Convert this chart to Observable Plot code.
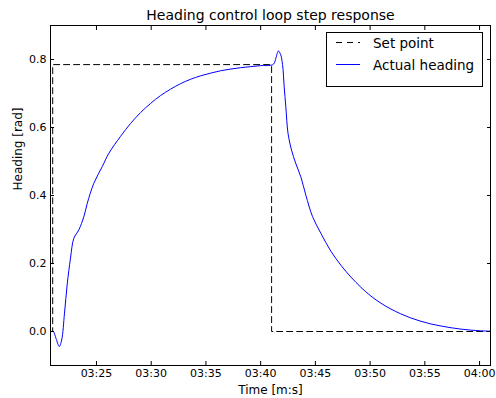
<!DOCTYPE html>
<html><head><meta charset="utf-8">
<script src="https://cdn.jsdelivr.net/npm/d3@7"></script>
<script src="https://cdn.jsdelivr.net/npm/@observablehq/plot@0.6"></script>
<style>
body{margin:0;background:#fff}
svg{font-family:"DejaVu Sans",sans-serif}
</style>
</head><body><div id="chart"></div>
<script>
const titleText = "Heading control loop step response";
const xLabel = "Time [m:s]";
const yLabel = "Heading [rad]";
const seriesNames = ["Set point", "Actual heading"];
const xTickValues = [205, 210, 215, 220, 225, 230, 235, 240];
const xTickLabels = ["03:25", "03:30", "03:35", "03:40", "03:45", "03:50", "03:55", "04:00"];
const yTickValues = [0, 0.2, 0.4, 0.6, 0.8];
const yTickLabels = ["0.0", "0.2", "0.4", "0.6", "0.8"];
const xDomain = [200.8, 241.0];
const yDomain = [-0.1, 0.9];

// set point (seconds after 03:00)
const setTime = [200.8, 201.0, 221.0, 241.0];
const setValue = [0, 0.785, 0, 0];

// actual heading (seconds after 03:00)
const headTime = [200.8, 201.05, 201.3, 201.6, 201.82, 202.08, 202.33, 202.63, 202.93, 203.39, 203.85, 204.16, 204.76, 205.53, 206.13, 207.2, 208.12, 209.03, 209.95, 210.86, 211.78, 212.69, 213.61, 214.52, 215.44, 216.35, 217.27, 218.18, 219.1, 220.01, 220.93, 221.2, 221.4, 221.62, 221.82, 222.0, 222.15, 222.3, 222.5, 222.82, 223.2, 223.67, 224.13, 224.74, 225.5, 226.42, 227.33, 228.25, 229.16, 230.08, 231.0, 231.9, 232.8, 233.7, 234.65, 235.57, 236.5, 237.4, 238.3, 239.2, 240.1, 241.0];
const headValue = [0, 0, -0.02, -0.044, -0.025, 0.054, 0.14, 0.216, 0.274, 0.299, 0.338, 0.377, 0.436, 0.485, 0.524, 0.574, 0.612, 0.644, 0.671, 0.694, 0.713, 0.729, 0.742, 0.752, 0.760, 0.767, 0.772, 0.776, 0.779, 0.782, 0.783, 0.787, 0.805, 0.825, 0.815, 0.785, 0.72, 0.661, 0.583, 0.534, 0.495, 0.455, 0.401, 0.338, 0.289, 0.236, 0.195, 0.160, 0.130, 0.104, 0.083, 0.066, 0.052, 0.040, 0.030, 0.022, 0.016, 0.011, 0.007, 0.004, 0.002, 0.001];

const setData = setTime.map((t, i) => ({t, v: setValue[i]}));
const headData = headTime.map((t, i) => ({t, v: headValue[i]}));
const xFmt = d => xTickLabels[xTickValues.indexOf(d)];
const yFmt = d => yTickLabels[yTickValues.indexOf(d)];
const blank = () => "";

const plot = Plot.plot({
  width: 496,
  height: 398,
  marginTop: 25,
  marginBottom: 33,
  marginLeft: 50,
  marginRight: 6,
  style: {fontFamily: "DejaVu Sans, sans-serif", color: "#000", background: "#fff"},
  x: {domain: xDomain},
  y: {domain: yDomain},
  marks: [
    Plot.line(setData, {x: "t", y: "v", curve: "step-after", stroke: "#000", strokeWidth: 1, strokeDasharray: "6,4"}),
    Plot.line(headData, {x: "t", y: "v", curve: "catmull-rom", stroke: "#0000ff", strokeWidth: 1}),
    Plot.frame({stroke: "#000", strokeWidth: 1}),
    // inward tick marks on all four sides
    Plot.axisX(xTickValues, {anchor: "bottom", tickSize: 4, dy: -4, tickFormat: blank, label: null}),
    Plot.axisX(xTickValues, {anchor: "top", tickSize: 4, dy: 4, tickFormat: blank, label: null}),
    Plot.axisY(yTickValues, {anchor: "left", tickSize: 4, dx: 4, tickFormat: blank, label: null}),
    Plot.axisY(yTickValues, {anchor: "right", tickSize: 4, dx: -4, tickFormat: blank, label: null}),
    // tick labels
    Plot.axisX(xTickValues, {anchor: "bottom", tickSize: 0, tickPadding: 4, tickFormat: xFmt, label: null, fontSize: 11}),
    Plot.axisY(yTickValues, {anchor: "left", tickSize: 0, tickPadding: 4, tickFormat: yFmt, label: null, fontSize: 11}),
    // titles
    Plot.text([titleText], {frameAnchor: "top", dy: -9.5, lineAnchor: "middle", fontSize: 14, fill: "#000"}),
    Plot.text([xLabel], {frameAnchor: "bottom", dy: 25, lineAnchor: "middle", fontSize: 12, fill: "#000"}),
    Plot.text([yLabel], {frameAnchor: "left", dx: -32, dy: -5, rotate: -90, lineAnchor: "middle", fontSize: 12, fill: "#000"})
  ]
});
document.getElementById("chart").appendChild(plot);

// legend (matplotlib-style box inside the axes, upper right)
const svg = d3.select(plot);
const lg = svg.append("g").attr("class", "legend").attr("text-anchor", "start");
lg.append("rect").attr("x", 326.5).attr("y", 32.5).attr("width", 156).attr("height", 54)
  .attr("fill", "#fff").attr("stroke", "#000").attr("stroke-width", 1);
const legendStyles = [
  {stroke: "#000", dash: "6,5", y: 42.5},
  {stroke: "#0000ff", dash: null, y: 64.5}
];
seriesNames.forEach((name, i) => {
  const s = legendStyles[i];
  const ln = lg.append("line").attr("x1", 336).attr("x2", 360).attr("y1", s.y).attr("y2", s.y)
    .attr("stroke", s.stroke).attr("stroke-width", 1);
  if (s.dash) ln.attr("stroke-dasharray", s.dash);
  lg.append("text").attr("x", 373).attr("y", s.y + 1).attr("dy", "0.32em")
    .attr("text-anchor", "start").attr("font-size", 13.5).attr("fill", "#000").text(name);
});
</script>
</body></html>
